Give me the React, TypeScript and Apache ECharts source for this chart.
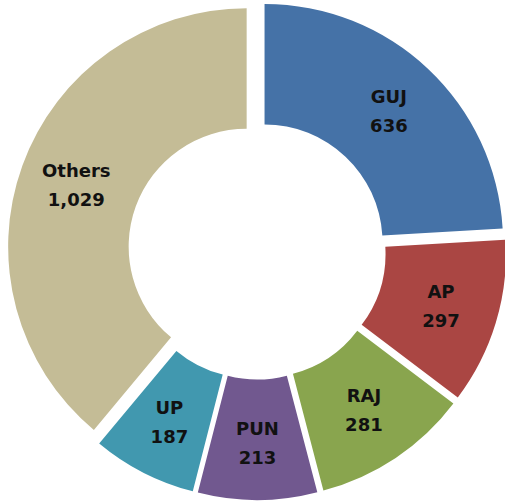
import React, { useEffect, useRef } from "react";
import * as echarts from "echarts";

const categories = ["GUJ", "AP", "RAJ", "PUN", "UP", "Others"];
const values = [636, 297, 281, 213, 187, 1029];
const colors = ["#4572A7", "#AA4643", "#89A54E", "#71588F", "#4198AF", "#C4BC96"];

export default function App() {
  const ref = useRef<HTMLDivElement>(null);
  useEffect(() => {
    document.body.style.margin = "0";
    if (!ref.current) return;
    const chart = echarts.init(ref.current, undefined, { renderer: "svg" });
    chart.setOption({
      animation: false,
      backgroundColor: "#ffffff",
      series: [
        {
          type: "pie",
          center: [257, 250.5],
          radius: [118, 238.5],
          startAngle: 90,
          clockwise: true,
          selectedMode: "multiple",
          selectedOffset: 11,
          silent: true,
          labelLine: { show: false },
          label: {
            show: true,
            position: "inner",
            fontFamily: "DejaVu Sans",
            fontWeight: "bold",
            fontSize: 18,
            lineHeight: 29,
            color: "#111111",
            formatter: (p: any) =>
              `${p.name}\n${Number(p.value).toLocaleString("en-US")}`,
          },
          data: categories.map((c, i) => ({
            name: c,
            value: values[i],
            selected: true,
            itemStyle: { color: colors[i] },
          })),
        },
      ],
    });
    return () => chart.dispose();
  }, []);
  return <div ref={ref} style={{ width: 505, height: 502 }} />;
}
